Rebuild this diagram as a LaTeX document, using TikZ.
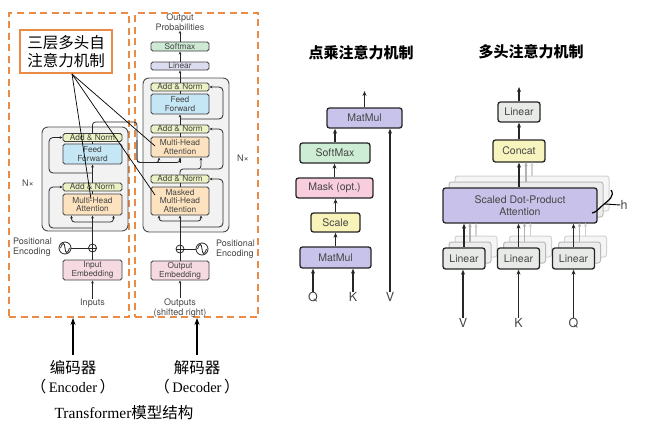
\documentclass[tikz,border=0pt]{standalone}
\usepackage{fontspec}
\setmainfont{TeX Gyre Heros}
\newfontfamily\cjk{Noto Sans CJK SC}
\newfontfamily\serif{Liberation Serif}
\usetikzlibrary{arrows.meta,calc}
\definecolor{orng}{RGB}{232,140,72}
\definecolor{addn}{RGB}{236,242,196}
\definecolor{ffc}{RGB}{197,230,245}
\definecolor{mhac}{RGB}{252,226,190}
\definecolor{embc}{RGB}{245,218,225}
\definecolor{linc}{RGB}{220,220,240}
\definecolor{softc}{RGB}{205,233,212}
\definecolor{stackc}{RGB}{242,242,242}
\definecolor{matc}{RGB}{200,195,235}
\definecolor{msoftc}{RGB}{205,237,213}
\definecolor{maskc}{RGB}{248,205,222}
\definecolor{scalec}{RGB}{248,244,185}
\definecolor{rlinc}{RGB}{232,234,232}
\definecolor{concc}{RGB}{248,244,190}
\definecolor{sdc}{RGB}{200,194,234}
\definecolor{txt}{RGB}{70,70,70}
\begin{document}
\begin{tikzpicture}[x=1pt,y=-1pt,
  tblk/.style={draw=black!75, line width=0.9pt, rounded corners=1.8pt, inner sep=0pt,
    text=txt, font=\fontsize{8.3}{8.6}\selectfont, align=center, minimum width=59pt},
  an/.style={tblk, fill=addn, minimum height=8pt},
  ffb/.style={tblk, fill=ffc, minimum height=20pt},
  mhab/.style={tblk, fill=mhac},
  embb/.style={tblk, fill=embc, minimum height=20pt},
  stackb/.style={draw=black!70, line width=0.9pt, fill=stackc, rounded corners=6pt},
  ttxt/.style={text=txt, font=\fontsize{9}{10.2}\selectfont, inner sep=0pt, align=center},
  arr/.style={-{Stealth[length=3pt,width=2.6pt]}, line width=0.8pt, black!85},
  ln/.style={line width=0.8pt, black!85},
  rc/.style={rounded corners=3pt},
  plus/.style={circle, draw=black!85, line width=0.8pt, minimum size=8pt, inner sep=0pt},
  sine/.style={circle, draw=black!85, line width=0.8pt, minimum size=12pt, inner sep=0pt},
  dbox/.style={draw=orng, line width=1.8pt, dash pattern=on 7pt off 4.5pt},
  mblk/.style={draw=black!85, line width=1.3pt, rounded corners=2.5pt, inner sep=0pt,
    text=txt, font=\fontsize{10.5}{12.5}\selectfont, align=center},
  arr2/.style={-{Stealth[length=5pt,width=4pt]}, line width=1.3pt, black!85},
  sh1/.style={draw=gray!55, line width=1pt, fill=gray!14, rounded corners=2.5pt},
  sh2/.style={draw=gray!35, line width=1pt, fill=gray!8, rounded corners=2.5pt},
  title/.style={font=\cjk\bfseries\fontsize{15}{18}\selectfont, inner sep=0pt},
  lab/.style={font=\fontsize{12.5}{14}\selectfont, text=txt, inner sep=0pt},
  arrB/.style={-{Stealth[length=7pt,width=5pt]}, line width=1.3pt, black},
  big/.style={font=\cjk\fontsize{15.5}{18}\selectfont, inner sep=0pt}
]
\useasboundingbox (0,0) rectangle (650,442);

% ---------------- dashed frames ----------------
\node[dbox, minimum width=120pt, minimum height=304pt] (encBox) at (69,165) {};
\node[dbox, minimum width=123pt, minimum height=304pt] (decBox) at (196.5,165) {};

% ---------------- stacks ----------------
\node[stackb, minimum width=86pt, minimum height=104pt, inner sep=0pt] (eStack) at (85,179) {};
\node[stackb, minimum width=86pt, minimum height=154pt, inner sep=0pt] (dStack) at (186,155) {};

% ---------------- encoder ----------------
\node[an] (eAN2) at (92.5,137.5) {Add \& Norm};
\node[ffb] (eFF) at (92.5,154) {Feed\\Forward};
\node[an] (eAN1) at (92.5,187) {Add \& Norm};
\node[mhab, minimum height=21pt] (eMHA) at (92.5,204.5) {Multi-Head\\Attention};
\node[embb] (eEmb) at (92.5,270) {Input\\Embedding};
\node[plus] (ePlus) at (92.5,248) {};
\node[sine] (eSin) at (65,248) {};
\node[ttxt, anchor=west, align=left] (ePos) at (13,247.5) {Positional\\Encoding};
\node[ttxt] (inputs) at (92.5,303) {Inputs};
\node[ttxt] (eN) at (28,183) {N×};

\draw[ln] (ePlus.north) -- (ePlus.south) (ePlus.west) -- (ePlus.east);
\draw[ln] (eSin.east) -- (ePlus.west);
\draw[ln] ([xshift=-4.5pt]eSin.center) .. controls ([xshift=-2.5pt,yshift=6pt]eSin.center) and ([xshift=-0.5pt,yshift=6pt]eSin.center) .. (eSin.center)
  .. controls ([xshift=0.5pt,yshift=-6pt]eSin.center) and ([xshift=2.5pt,yshift=-6pt]eSin.center) .. ([xshift=4.5pt]eSin.center);

\draw[arr] (inputs.north) -- (eEmb.south);
\draw[ln] (eEmb.north) -- (ePlus.south);
\draw[arr] (ePlus.north) -- (eMHA.south);
\draw[arr, rc] (92.5,222) -| ([xshift=-21pt]eMHA.south);
\draw[arr, rc] (92.5,222) -| ([xshift=21pt]eMHA.south);
\draw[arr, rounded corners=4pt] (92.5,228) -| (49,187) -- (eAN1.west);
\draw[ln] (eMHA.north) -- (eAN1.south);
\draw[arr] (eAN1.north) -- (eFF.south);
\draw[arr, rounded corners=4pt] (92.5,173) -| (49,137.5) -- (eAN2.west);
\draw[ln] (eFF.north) -- (eAN2.south);

% ---------------- decoder ----------------
\node[an, minimum width=58pt] (dAN3) at (180,87) {Add \& Norm};
\node[ffb, minimum width=58pt] (dFF) at (180,104) {Feed\\Forward};
\node[an, minimum width=58pt] (dAN2) at (180,129) {Add \& Norm};
\node[mhab, minimum width=58pt, minimum height=20pt] (dMHA) at (180,147) {Multi-Head\\Attention};
\node[an, minimum width=58pt] (dAN1) at (180,179) {Add \& Norm};
\node[mhab, minimum width=58pt, minimum height=28pt] (dMMHA) at (180,201) {Masked\\Multi-Head\\Attention};
\node[embb, minimum width=58pt, minimum height=19pt] (dEmb) at (180,270.5) {Output\\Embedding};
\node[plus] (dPlus) at (180,249) {};
\node[sine] (dSin) at (202,249) {};
\node[ttxt, anchor=west, align=left] (dPos) at (216,249) {Positional\\Encoding};
\node[ttxt] (outputs) at (180,308) {Outputs\\(shifted right)};
\node[ttxt] (dN) at (243,158) {N×};
\node[tblk, fill=linc, minimum width=58pt, minimum height=8pt] (dLin) at (180,66) {Linear};
\node[tblk, fill=softc, minimum width=58pt, minimum height=9pt] (dSoft) at (180,46.5) {Softmax};
\node[ttxt] (outprob) at (180,22) {Output\\Probabilities};

\draw[ln] (dPlus.north) -- (dPlus.south) (dPlus.west) -- (dPlus.east);
\draw[ln] (dPlus.east) -- (dSin.west);
\draw[ln] ([xshift=-4.5pt]dSin.center) .. controls ([xshift=-2.5pt,yshift=6pt]dSin.center) and ([xshift=-0.5pt,yshift=6pt]dSin.center) .. (dSin.center)
  .. controls ([xshift=0.5pt,yshift=-6pt]dSin.center) and ([xshift=2.5pt,yshift=-6pt]dSin.center) .. ([xshift=4.5pt]dSin.center);

\draw[arr] (outputs.north) -- (dEmb.south);
\draw[ln] (dEmb.north) -- (dPlus.south);
\draw[arr] (dPlus.north) -- (dMMHA.south);
\draw[arr, rc] (180,221) -| ([xshift=-21pt]dMMHA.south);
\draw[arr, rc] (180,221) -| ([xshift=21pt]dMMHA.south);
\draw[arr, rounded corners=4pt] (180,227) -| (223,179) -- (dAN1.east);
\draw[ln] (dMMHA.north) -- (dAN1.south);
\draw[arr, rc] (dAN1.north) |- (201,169) -- ([xshift=21pt]dMHA.south);
\draw[arr, rounded corners=4pt] (201,169) -| (223,129) -- (dAN2.east);
\draw[ln] (dMHA.north) -- (dAN2.south);
\draw[arr] (dAN2.north) -- (dFF.south);
\draw[arr, rounded corners=4pt] (180,119) -| (223,87) -- (dAN3.east);
\draw[ln] (dFF.north) -- (dAN3.south);
\draw[arr] (dAN3.north) -- (dLin.south);
\draw[arr] (dLin.north) -- (dSoft.south);
\draw[arr] (dSoft.north) -- (outprob.south);

% encoder output to decoder
\draw[ln, rc] (eAN2.north) |- (137,122) |- (180,162.5) -- (180,162.5);
\draw[arr, rc] (137,140) |- (159,162.5) -- ([xshift=-21pt]dMHA.south);
\draw[arr] (180,162.5) -- (dMHA.south);

% ---------------- orange box ----------------
\node[draw=orng, line width=1.8pt, minimum width=92pt, minimum height=43pt, inner sep=0pt,
  font=\cjk\fontsize{15.5}{18.5}\selectfont, align=center] (obox) at (66,51.5) {三层多头自\\注意力机制};
\coordinate (oS) at (72,74);
\coordinate (tA) at (91,199);
\coordinate (tB) at (155,146);
\coordinate (tC) at (155,195);
\draw[line width=0.7pt] (oS) -- (tA);
\draw[line width=0.7pt] (oS) -- (tB);
\draw[line width=0.7pt] (oS) -- (tC);

% ---------------- bottom labels ----------------
\node[big] (encL) at (73,368) {编码器};
\node[big] (encE) at (73,387) {（\,{\serif\fontsize{14.5}{17}\selectfont Encoder}\,）};
\node[big] (decL) at (197,368) {解码器};
\node[big] (decE) at (197,387) {（\,{\serif\fontsize{14.5}{17}\selectfont Decoder}\,）};
\node[inner sep=0pt] (tfm) at (124,413) {{\serif\fontsize{15.5}{18}\selectfont Transformer}{\cjk\fontsize{15.5}{18}\selectfont 模型结构}};
\coordinate (encA) at (73,355);
\coordinate (decA) at (197,355);
\draw[arrB] (encA) -- (encA |- encBox.south);
\draw[arrB] (decA) -- (decA |- decBox.south);

% ---------------- scaled dot-product ----------------
\node[title] (t1) at (361,53) {点乘注意力机制};
\node[mblk, fill=matc, minimum width=75pt, minimum height=20pt] (mMat2) at (364.5,118) {MatMul};
\node[mblk, fill=msoftc, minimum width=70pt, minimum height=20pt] (mSoft) at (335,153) {SoftMax};
\node[mblk, fill=maskc, minimum width=77pt, minimum height=20pt] (mMask) at (334.5,188) {Mask (opt.)};
\node[mblk, fill=scalec, minimum width=49pt, minimum height=19pt] (mScale) at (335.5,222.5) {Scale};
\node[mblk, fill=matc, minimum width=71pt, minimum height=21pt] (mMat1) at (335.5,257.5) {MatMul};
\node[lab] (Q) at (313,297) {Q};
\node[lab] (K) at (353,297) {K};
\node[lab] (V) at (390,297) {V};
\coordinate (mOut) at (364.5,91);
\draw[arr2] (Q.north) -- (Q.north |- mMat1.south);
\draw[arr2] (K.north) -- (K.north |- mMat1.south);
\draw[arr2] (V.north) -- (V.north |- mMat2.south);
\draw[arr2] (mMat1.north) -- (mScale.south);
\draw[arr2] (mScale.north) -- (mScale.north |- mMask.south);
\draw[arr2] (mMask.north) -- (mMask.north |- mSoft.south);
\draw[arr2] (mSoft.north) -- (mSoft.north |- mMat2.south);
\draw[arr2] (mMat2.north) -- (mOut);

% ---------------- multi-head ----------------
\node[title] (t2) at (531,52) {多头注意力机制};
% shadows of SDPA
\draw[sh2] (455,176) rectangle (609,211);
\draw[sh1] (449,182) rectangle (603,217);
\node[mblk, fill=sdc, minimum width=154pt, minimum height=35pt] (rSD) at (520,205.5) {Scaled Dot-Product\\Attention};
\node[mblk, fill=rlinc, minimum width=42pt, minimum height=20pt] (rLin) at (519,112) {Linear};
\node[mblk, fill=concc, minimum width=52pt, minimum height=22pt] (rCon) at (519,151) {Concat};
% shadows of linears
\foreach \cx in {464,518.5,573.5}{
  \draw[sh2] (\cx-21+12,248-12) rectangle (\cx+21+12,269-12);
  \draw[sh1] (\cx-21+6,248-6) rectangle (\cx+21+6,269-6);
  \draw[-{Stealth[length=4pt,width=3.5pt]}, line width=1.1pt, gray!35] (\cx+12,236) -- (\cx+12,223);
  \draw[-{Stealth[length=4pt,width=3.5pt]}, line width=1.1pt, gray!60] (\cx+6,242) -- (\cx+6,223);
}
\node[mblk, fill=rlinc, minimum width=42pt, minimum height=21pt] (rL1) at (464,258.5) {Linear};
\node[mblk, fill=rlinc, minimum width=42pt, minimum height=21pt] (rL2) at (518.5,258.5) {Linear};
\node[mblk, fill=rlinc, minimum width=42pt, minimum height=21pt] (rL3) at (573.5,258.5) {Linear};
\node[lab] (V2) at (463,323) {V};
\node[lab] (K2) at (518.5,323) {K};
\node[lab] (Q2) at (573.5,323) {Q};
\draw[arr2] (V2.north) -- (V2.north |- rL1.south);
\draw[arr2] (K2.north) -- (K2.north |- rL2.south);
\draw[arr2] (Q2.north) -- (Q2.north |- rL3.south);
\draw[arr2] (rL1.north) -- (rL1.north |- rSD.south);
\draw[arr2] (rL2.north) -- (rL2.north |- rSD.south);
\draw[arr2] (rL3.north) -- (rL3.north |- rSD.south);
\draw[-{Stealth[length=4pt,width=3.5pt]}, line width=1.1pt, gray!60] (526,182) -- (526,162);
\draw[-{Stealth[length=4pt,width=3.5pt]}, line width=1.1pt, gray!35] (532,176) -- (532,162);
\draw[arr2] (rCon.south |- rSD.north) -- (rCon.south);
\draw[arr2] (rCon.north) -- (rLin.south);
\coordinate (rOut) at (519,87);
\draw[arr2] (rLin.north) -- (rOut);
% h brace
\node[lab] (hL) at (624,205) {h};
\draw[line width=1.2pt] (611,190) .. controls (615,196) and (609,200) .. (603,205)
  .. controls (598,209) and (597,212) .. (592,213);
\draw[line width=0.9pt] (605,204) -- (hL.west);
\end{tikzpicture}
\end{document}
